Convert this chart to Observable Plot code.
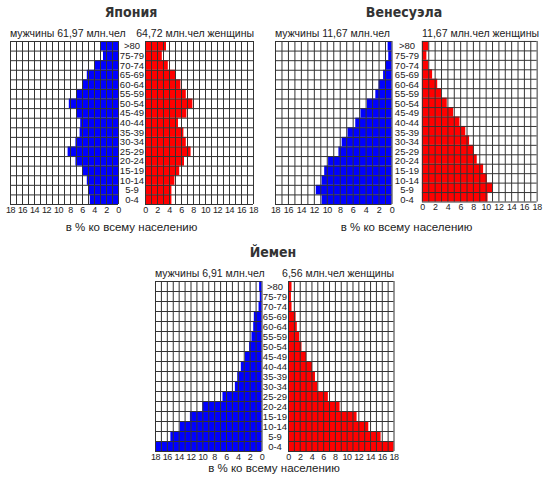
<!DOCTYPE html>
<html>
<head>
<meta charset="utf-8">
<script src="https://cdn.jsdelivr.net/npm/d3@7"></script>
<script src="https://cdn.jsdelivr.net/npm/@observablehq/plot@0.6"></script>
<style>
  body { margin: 0; background: #fff; }
  #chart { position: relative; width: 546px; height: 479px; overflow: hidden;
           font-family: "Liberation Sans", Arial, sans-serif; color: #222; }
  .lbl { position: absolute; white-space: nowrap; line-height: 1; }
  .title { font-family: "Liberation Sans Narrow", "DejaVu Sans Condensed", "Liberation Sans", sans-serif;
           font-weight: bold; font-size: 14px; color: #333; }
  .sub { font-size: 10.5px; }
  .cap { font-size: 11.5px; }
  .panel { position: absolute; }
  .panel svg { overflow: visible; }
  .panel g[aria-label="x-axis tick label"] { font-size: 9px; letter-spacing: -0.4px; }
</style>
</head>
<body>
<div id="chart"></div>
<script>
// Age groups, bottom row first
const ages = ["0-4","5-9","10-14","15-19","20-24","25-29","30-34","35-39","40-44",
              "45-49","50-54","55-59","60-64","65-69","70-74","75-79",">80"];

// Share of the population by age group, %
const japanMale     = [4.7, 5.0, 5.2, 5.9, 7.1, 8.4, 7.1, 6.4, 6.3, 7.0, 8.2, 7.0, 5.9, 5.2, 4.0, 2.5, 2.9];
const japanFemale   = [4.4, 4.4, 4.9, 5.7, 6.5, 7.6, 6.8, 6.4, 5.5, 6.9, 7.9, 6.8, 5.9, 5.0, 3.8, 2.8, 3.5];
const venezMale     = [10.8, 11.7, 10.8, 10.4, 9.8, 8.2, 7.7, 6.8, 5.6, 4.8, 3.8, 2.5, 2.0, 1.3, 1.0, 0.5, 0.6];
const venezFemale   = [10.3, 11.0, 10.2, 9.6, 8.6, 8.1, 7.4, 6.8, 5.9, 4.9, 3.9, 3.0, 2.4, 1.6, 1.0, 0.7, 1.0];
const yemenMale     = [18.0, 15.4, 13.8, 12.1, 10.0, 6.6, 4.5, 4.1, 3.5, 2.8, 2.1, 1.7, 1.4, 1.3, 0.5, 0.3, 0.4];
const yemenFemale   = [18.0, 15.8, 13.7, 11.7, 8.8, 6.8, 5.0, 4.6, 4.1, 3.1, 2.3, 1.9, 1.5, 1.3, 0.6, 0.5, 0.6];

const countries    = ["Япония", "Венесуэла", "Йемен"];
const maleTotals   = ["61,97", "11,67", "6,91"];
const femaleTotals = ["64,72", "11,67", "6,56"];
const xTicks = [0, 2, 4, 6, 8, 10, 12, 14, 16, 18];
const caption = "в % ко всему населению";

const maleColor = "#0000ff", femaleColor = "#ff0000", gridColor = "#333";
const chart = document.getElementById("chart");

// Frame of each pyramid: left grid, right grid, top and bottom of grid
const layout = [
  { lx: 10,  lw: 108,   rx: 145,   rw: 108,   top: 41,  bottom: 204, capY: 228, titleX: 131 },
  { lx: 275, lw: 116.5, rx: 421.5, rw: 116.5, top: 41,  bottom: 204, capY: 228, titleX: 404 },
  { lx: 155, lw: 106.5, rx: 287.5, rw: 105.5, top: 281, bottom: 451, capY: 469, titleX: 273 }
];

function text(str, x, y, cls, anchor) {
  const d = document.createElement("div");
  d.className = "lbl " + cls;
  d.textContent = str;
  d.style.left = x + "px";
  d.style.top = y + "px";
  const tx = anchor === "start" ? "0" : anchor === "end" ? "-100%" : "-50%";
  d.style.transform = `translate(${tx}, -50%)`;
  chart.appendChild(d);
}

function half(values, side, L) {
  const left = side === "left";
  const gridW = left ? L.lw : L.rw;
  const gridH = L.bottom - L.top;
  const gap = L.rx - (L.lx + L.lw);
  const mL = left ? 10 : 6, mR = left ? gap : 10, mT = 2, mB = 14;
  const plot = Plot.plot({
    width: mL + gridW + mR,
    height: mT + gridH + mB,
    marginLeft: mL, marginRight: mR, marginTop: mT, marginBottom: mB,
    x: { domain: [0, 18], reverse: left, ticks: xTicks, tickSize: 0, tickPadding: 2, label: null },
    y: { domain: [0, 17], axis: null },
    style: { fontSize: "10px", fontFamily: "Liberation Sans, Arial, sans-serif", color: "#222", background: "transparent" },
    marks: [
      Plot.rect(values, {
        x1: 0, x2: d => d,
        y1: (d, i) => i, y2: (d, i) => i + 1,
        fill: left ? maleColor : femaleColor
      }),
      Plot.ruleX(d3.range(0, 19), { y1: 0, y2: 17, stroke: gridColor, strokeWidth: 1 }),
      Plot.ruleY(d3.range(0, 18), { x1: 0, x2: 18, stroke: gridColor, strokeWidth: 1 }),
      left ? Plot.text(ages, {
        x: 0, y: (d, i) => i + 0.5, dx: gap / 2, text: d => d,
        fontSize: 9.5, fill: "#222"
      }) : null
    ]
  });
  const wrap = document.createElement("div");
  wrap.className = "panel";
  wrap.style.left = ((left ? L.lx : L.rx) - mL) + "px";
  wrap.style.top = (L.top - mT) + "px";
  wrap.appendChild(plot);
  chart.appendChild(wrap);
}

const males = [japanMale, venezMale, yemenMale];
const females = [japanFemale, venezFemale, yemenFemale];

layout.forEach((L, k) => {
  half(males[k], "left", L);
  half(females[k], "right", L);
  text(countries[k], L.titleX, L.top - 29, "title", "middle");
  text(`мужчины ${maleTotals[k]} млн.чел`, L.lx, L.top - 8, "sub", "start");
  text(`${femaleTotals[k]} млн.чел женщины`, L.rx + L.rw + 1, L.top - 8, "sub", "end");
  text(caption, (L.lx + L.rx + L.rw) / 2, L.capY, "cap", "middle");
});
</script>
</body>
</html>
